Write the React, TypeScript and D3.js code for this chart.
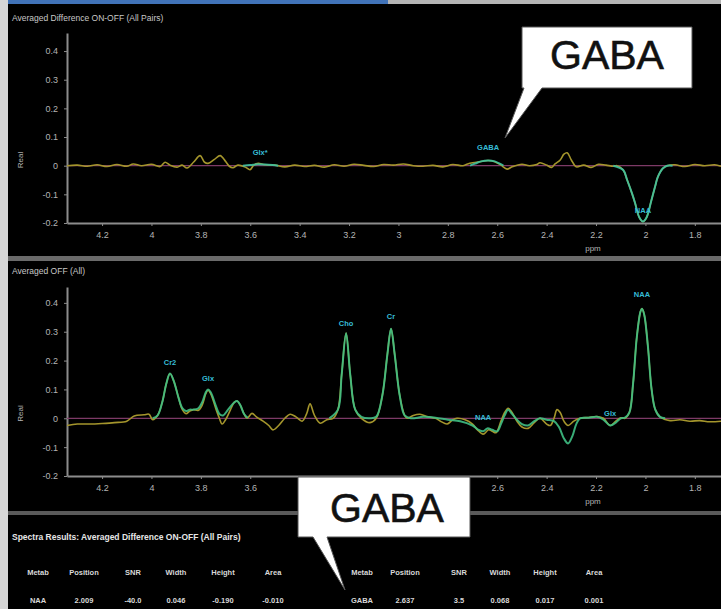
import React, { useEffect, useRef } from 'react';
import * as d3 from 'd3';

// axis ticks
const ppmTicks = [4.2, 4, 3.8, 3.6, 3.4, 3.2, 3, 2.8, 2.6, 2.4, 2.2, 2, 1.8];
const realTicks = [-0.2, -0.1, 0, 0.1, 0.2, 0.3, 0.4];

// Averaged Difference ON-OFF: measured spectrum [ppm, real]
const diffData: [number, number][] = [
  [4.342, 0], [4.3, 0.002], [4.26, -0.002], [4.22, 0.003], [4.18, -0.003], [4.14, 0.004],
  [4.1, -0.002], [4.074, 0.006], [4.04, 0], [4.0, 0.005], [3.965, -0.003], [3.945, 0.012],
  [3.925, 0.002], [3.896, -0.005], [3.876, 0.002], [3.856, -0.008], [3.83, 0.012], [3.803, 0.035],
  [3.785, 0.012], [3.771, 0.008], [3.745, 0.022], [3.722, 0.035], [3.7, 0.015], [3.685, -0.002],
  [3.67, -0.007], [3.65, 0.002], [3.62, -0.005], [3.601, -0.014], [3.585, 0.003], [3.568, 0.008],
  [3.54, 0.003], [3.5, 0.002], [3.46, -0.004], [3.42, 0.002], [3.38, -0.003], [3.34, 0.001],
  [3.3, -0.005], [3.26, 0.003], [3.22, -0.002], [3.18, 0.005], [3.14, 0.001], [3.1, -0.003],
  [3.06, 0.004], [3.02, 0.002], [2.98, 0.006], [2.94, 0], [2.9, -0.002], [2.86, 0.001],
  [2.82, -0.004], [2.78, 0.004], [2.74, 0], [2.72, 0.006], [2.7, 0.01], [2.67, 0.014],
  [2.637, 0.018], [2.61, 0.014], [2.585, 0.002], [2.56, -0.012], [2.54, -0.004], [2.5, 0.005],
  [2.47, 0], [2.44, 0.004], [2.427, 0.01], [2.4, 0.002], [2.38, -0.006], [2.366, 0.006],
  [2.345, 0.02], [2.33, 0.04], [2.317, 0.045], [2.3, 0.02], [2.28, -0.004], [2.25, 0.002],
  [2.22, -0.006], [2.19, 0.005], [2.16, 0.002], [2.13, -0.002], [2.115, 0], [2.09, -0.015],
  [2.074, -0.05], [2.055, -0.095], [2.042, -0.13], [2.025, -0.18], [2.01, -0.195], [1.995, -0.18],
  [1.977, -0.125], [1.96, -0.07], [1.95, -0.04], [1.93, -0.01], [1.912, 0], [1.88, 0.003],
  [1.84, -0.003], [1.8, 0.004], [1.76, 0], [1.72, 0.003], [1.694, -0.002],
];

// Averaged Difference ON-OFF: fitted peaks
const diffFitGlx: [number, number][] = [
  [3.63, 0], [3.6, 0.002], [3.57, 0.005], [3.54, 0.004], [3.51, 0.002], [3.487, 0],
];
const diffFitGaba: [number, number][] = [
  [2.71, 0], [2.69, 0.007], [2.665, 0.015], [2.637, 0.018], [2.61, 0.015], [2.59, 0.007], [2.575, 0],
];
const diffFitNaa: [number, number][] = [
  [2.13, 0], [2.09, -0.015], [2.074, -0.05], [2.055, -0.095], [2.042, -0.13], [2.025, -0.18],
  [2.01, -0.195], [1.995, -0.18], [1.977, -0.125], [1.96, -0.07], [1.95, -0.04], [1.93, -0.01],
  [1.912, 0], [1.89, 0],
];

// Averaged OFF: measured spectrum
const offData: [number, number][] = [
  [4.342, -0.025], [4.3, -0.02], [4.25, -0.02], [4.2, -0.018], [4.15, -0.015], [4.1, -0.01],
  [4.07, 0.008], [4.03, 0.012], [4.01, 0.014], [3.995, -0.005], [3.975, 0.01], [3.955, 0.06],
  [3.94, 0.12], [3.925, 0.155], [3.91, 0.13], [3.89, 0.07], [3.875, 0.03], [3.86, 0.016],
  [3.845, 0.025], [3.83, 0.03], [3.81, 0.028], [3.795, 0.045], [3.78, 0.085], [3.771, 0.097],
  [3.76, 0.085], [3.74, 0.035], [3.725, 0], [3.714, -0.02], [3.7, -0.005], [3.68, 0.03],
  [3.665, 0.055], [3.653, 0.06], [3.64, 0.045], [3.625, 0.015], [3.613, 0], [3.593, 0.017],
  [3.575, 0.005], [3.548, -0.01], [3.525, -0.025], [3.508, -0.04], [3.485, -0.025], [3.46, 0],
  [3.439, 0.014], [3.415, 0.005], [3.39, -0.01], [3.372, 0.015], [3.358, 0.05], [3.34, 0.01],
  [3.317, -0.017], [3.29, -0.005], [3.265, 0], [3.245, 0.03], [3.23, 0.15], [3.212, 0.295],
  [3.195, 0.15], [3.175, 0.03], [3.15, 0], [3.115, -0.015], [3.09, 0], [3.065, 0.08],
  [3.045, 0.22], [3.03, 0.31], [3.015, 0.22], [2.995, 0.08], [2.975, 0.01], [2.965, 0],
  [2.94, 0.01], [2.913, 0.014], [2.88, 0.005], [2.85, 0], [2.83, -0.01], [2.803, -0.02],
  [2.78, -0.005], [2.763, 0], [2.73, -0.005], [2.7, -0.02], [2.68, -0.04], [2.657, -0.055],
  [2.635, -0.04], [2.62, -0.045], [2.605, -0.05], [2.585, -0.01], [2.57, 0.02], [2.556, 0.035],
  [2.54, 0.02], [2.52, -0.01], [2.5, -0.03], [2.475, -0.035], [2.45, -0.015], [2.427, 0],
  [2.4, -0.02], [2.385, -0.025], [2.37, 0], [2.358, 0.03], [2.345, 0.02], [2.33, -0.01],
  [2.313, -0.025], [2.29, -0.01], [2.265, 0], [2.23, 0.003], [2.196, 0.006], [2.17, 0],
  [2.143, -0.025], [2.12, -0.01], [2.1, 0.002], [2.083, 0], [2.065, 0.02], [2.05, 0.12],
  [2.035, 0.28], [2.02, 0.37], [2.014, 0.38], [2.005, 0.36], [1.99, 0.25], [1.975, 0.1],
  [1.96, 0.03], [1.941, 0.005], [1.9, -0.008], [1.86, -0.005], [1.82, -0.01], [1.78, -0.008],
  [1.74, -0.012], [1.694, -0.01],
];

// Averaged OFF: fitted model
const offFitA: [number, number][] = [
  [3.995, 0], [3.975, 0.01], [3.955, 0.06], [3.94, 0.12], [3.925, 0.155], [3.91, 0.13],
  [3.89, 0.07], [3.875, 0.035], [3.86, 0.025], [3.845, 0.03], [3.83, 0.03], [3.81, 0.035],
  [3.795, 0.055], [3.78, 0.09], [3.771, 0.1], [3.76, 0.09], [3.74, 0.045], [3.725, 0.015],
  [3.71, 0.01], [3.69, 0.03], [3.665, 0.055], [3.653, 0.06], [3.64, 0.045], [3.625, 0.015],
  [3.61, 0.002],
];
const offFitB: [number, number][] = [
  [3.28, 0], [3.245, 0.03], [3.23, 0.15], [3.212, 0.295], [3.195, 0.15], [3.175, 0.03],
  [3.15, 0.005], [3.115, 0], [3.09, 0.005], [3.065, 0.08], [3.045, 0.22], [3.03, 0.31],
  [3.015, 0.22], [2.995, 0.08], [2.975, 0.01], [2.95, 0], [2.9, 0.005], [2.85, 0.002],
  [2.8, -0.005], [2.75, -0.01], [2.7, -0.025], [2.675, -0.04], [2.657, -0.045], [2.64, -0.035],
  [2.62, -0.04], [2.6, -0.045], [2.585, -0.02], [2.57, 0.01], [2.556, 0.03], [2.54, 0.015],
  [2.52, -0.005], [2.5, -0.02], [2.475, -0.025], [2.45, -0.01], [2.427, 0], [2.4, -0.005],
  [2.37, -0.01], [2.35, -0.03], [2.33, -0.07], [2.313, -0.087], [2.295, -0.06], [2.28, -0.02],
  [2.265, 0], [2.23, 0.002], [2.196, 0.005], [2.17, -0.005], [2.143, -0.025], [2.12, -0.015],
  [2.1, 0], [2.083, 0.002], [2.065, 0.02], [2.05, 0.12], [2.035, 0.28], [2.02, 0.37],
  [2.014, 0.38], [2.005, 0.36], [1.99, 0.25], [1.975, 0.1], [1.96, 0.03], [1.941, 0.005], [1.92, 0],
];

// metabolite labels: name, ppm, value where the label sits
const diffLabels: [string, number, number][] = [
  ['Glx*', 3.56, 0.045], ['GABA', 2.637, 0.063], ['NAA', 2.01, -0.157],
];
const offLabels: [string, number, number][] = [
  ['Cr2', 3.925, 0.194], ['Glx', 3.771, 0.139], ['Cho', 3.212, 0.33], ['Cr', 3.03, 0.354],
  ['NAA', 2.014, 0.43], ['NAA', 2.657, 0.003], ['Glx', 2.143, 0.017],
];

// results table
const tableTitle = 'Spectra Results: Averaged Difference ON-OFF (All Pairs)';
const tableHeaders = ['Metab', 'Position', 'SNR', 'Width', 'Height', 'Area'];
const naaRow = ['NAA', '2.009', '-40.0', '0.046', '-0.190', '-0.010'];
const gabaRow = ['GABA', '2.637', '3.5', '0.068', '0.017', '0.001'];

const W = 721;
const H = 609;
const FONT = "'Liberation Sans', Arial, sans-serif";

const SpectraChart = () => {
  const ref = useRef<SVGSVGElement>(null);

  useEffect(() => {
    const svg = d3.select(ref.current);
    svg.selectAll('*').remove();

    // window chrome
    svg.append('rect').attr('width', W).attr('height', H).attr('fill', '#000');
    svg.append('rect').attr('width', 8).attr('height', H).attr('fill', '#d6d6d6');
    svg.append('rect').attr('x', 8).attr('width', W - 8).attr('height', 4).attr('fill', '#b4b4b4');
    svg.append('rect').attr('x', 8).attr('width', 380).attr('height', 4).attr('fill', '#4173b8');
    svg.append('rect').attr('x', 8).attr('y', 256).attr('width', W - 8).attr('height', 5).attr('fill', '#6a6a6a');
    svg.append('rect').attr('x', 8).attr('y', 511).attr('width', W - 8).attr('height', 4).attr('fill', '#5a5a5a');

    const x = d3.scaleLinear().domain([4.342, 1.694]).range([67, W]);

    const panels = [
      {
        title: 'Averaged Difference ON-OFF (All Pairs)', titleY: 21,
        y: d3.scaleLinear().domain([-0.2, 0.463]).range([223, 33]),
        bottom: 223, top: 33, data: diffData, fits: [diffFitGlx, diffFitGaba, diffFitNaa],
        labels: diffLabels, fitColor: '#3fc2a0', hidden: [0, 0],
      },
      {
        title: 'Averaged OFF (All)', titleY: 274,
        y: d3.scaleLinear().domain([-0.2, 0.455]).range([476, 287]),
        bottom: 476, top: 287, data: offData, fits: [offFitA, offFitB],
        labels: offLabels, fitColor: '#3fbf84', hidden: [285, 475],
      },
    ];

    panels.forEach((p, i) => {
      const g = svg.append('g');
      const clipId = `clip-${i}`;
      g.append('clipPath').attr('id', clipId)
        .append('rect').attr('x', 67).attr('y', p.top - 10)
        .attr('width', W - 67).attr('height', p.bottom - p.top + 20);

      g.append('text')
        .attr('x', 12).attr('y', p.titleY)
        .attr('fill', '#c8c8c8').attr('font-size', '8.5px').attr('font-family', FONT)
        .text(p.title);

      // y axis
      const yAxis = g.append('g')
        .attr('transform', 'translate(67,0)')
        .call(d3.axisLeft(p.y).tickValues(realTicks).tickSize(3).tickSizeOuter(0).tickFormat(d => String(d)));
      yAxis.select('.domain').attr('stroke', '#8c8c8c').attr('stroke-width', 2);
      yAxis.selectAll('.tick line').attr('stroke', '#8c8c8c');
      yAxis.selectAll('.tick text')
        .attr('fill', '#b4b4b4').attr('font-size', '9px').attr('font-family', FONT).attr('x', -9);

      // x axis (labels under the callout box are hidden, as in the screenshot)
      const xAxis = g.append('g')
        .attr('transform', `translate(0,${p.bottom})`)
        .call(d3.axisBottom(x).tickValues(ppmTicks).tickSize(3).tickSizeOuter(0).tickFormat(d => String(d)));
      xAxis.select('.domain').attr('stroke', '#8c8c8c').attr('stroke-width', 2);
      xAxis.selectAll('.tick line').attr('stroke', '#8c8c8c');
      xAxis.selectAll('.tick text')
        .attr('fill', '#b4b4b4').attr('font-size', '9px').attr('font-family', FONT).attr('y', 9);
      xAxis.selectAll<SVGGElement, number>('.tick')
        .filter(d => x(d) > p.hidden[0] && x(d) < p.hidden[1])
        .select('text').remove();

      g.append('text')
        .attr('x', 593).attr('y', p.bottom + 28)
        .attr('text-anchor', 'middle')
        .attr('fill', '#b4b4b4').attr('font-size', '8px').attr('font-family', FONT)
        .text('ppm');

      g.append('text')
        .attr('transform', `translate(23,${(p.top + p.bottom) / 2 + 32}) rotate(-90)`)
        .attr('text-anchor', 'middle')
        .attr('fill', '#b4b4b4').attr('font-size', '8px').attr('font-family', FONT)
        .text('Real');

      const plot = g.append('g').attr('clip-path', `url(#${clipId})`);

      // zero baseline
      plot.append('line')
        .attr('x1', 67).attr('x2', W)
        .attr('y1', p.y(0)).attr('y2', p.y(0))
        .attr('stroke', '#7d3a66').attr('stroke-width', 1.3);

      const line = d3.line<[number, number]>()
        .x(d => x(d[0]))
        .y(d => p.y(d[1]))
        .curve(d3.curveCatmullRom.alpha(0.5));

      plot.append('path')
        .attr('d', line(p.data))
        .attr('fill', 'none')
        .attr('stroke', '#a4952c')
        .attr('stroke-width', 1.6);

      p.fits.forEach(f => {
        plot.append('path')
          .attr('d', line(f))
          .attr('fill', 'none')
          .attr('stroke', p.fitColor)
          .attr('stroke-width', 2)
          .attr('stroke-opacity', 0.9);
      });

      g.selectAll('.peak-label')
        .data(p.labels)
        .enter()
        .append('text')
        .attr('x', d => x(d[1]))
        .attr('y', d => p.y(d[2]))
        .attr('dy', '0.35em')
        .attr('text-anchor', 'middle')
        .attr('fill', '#36bcd6')
        .attr('font-size', '7.5px')
        .attr('font-weight', 'bold')
        .attr('font-family', FONT)
        .text(d => d[0]);
    });

    // results table
    svg.append('text')
      .attr('x', 12).attr('y', 540)
      .attr('fill', '#e6e6e6').attr('font-size', '8.5px').attr('font-weight', 'bold').attr('font-family', FONT)
      .text(tableTitle);

    const colsLeft = [38, 84, 133, 176, 223, 273];
    const colsRight = [362, 405, 459, 500, 545, 594];
    [[colsLeft, naaRow], [colsRight, gabaRow]].forEach(([cols, row]) => {
      const c = cols as number[];
      const r = row as string[];
      tableHeaders.forEach((h, j) => {
        svg.append('text')
          .attr('x', c[j]).attr('y', 575)
          .attr('text-anchor', 'middle')
          .attr('fill', '#d8d8d8').attr('font-size', '7.5px').attr('font-weight', 'bold').attr('font-family', FONT)
          .text(h);
        svg.append('text')
          .attr('x', c[j]).attr('y', 603)
          .attr('text-anchor', 'middle')
          .attr('fill', '#d8d8d8').attr('font-size', '7.5px').attr('font-weight', 'bold').attr('font-family', FONT)
          .text(r[j]);
      });
    });

    // callouts
    const callouts = [
      { d: 'M522,27 H692 V88 H542 L505,138 L524,88 H522 Z', tx: 607, ty: 69 },
      { d: 'M298,477 H470 V537 H327 L345,590 L313,537 H298 Z', tx: 387, ty: 522 },
    ];
    callouts.forEach(c => {
      svg.append('path')
        .attr('d', c.d)
        .attr('fill', '#fff')
        .attr('stroke', '#555')
        .attr('stroke-width', 1);
      svg.append('text')
        .attr('x', c.tx).attr('y', c.ty)
        .attr('text-anchor', 'middle')
        .attr('fill', '#111')
        .attr('font-size', '41px')
        .attr('font-family', FONT)
        .attr('stroke', '#111').attr('stroke-width', 0.6)
        .text('GABA');
    });
  }, []);

  return (
    <svg ref={ref} width={W} height={H} style={{ position: 'absolute', left: 0, top: 0, display: 'block' }} />
  );
};

export default function App() {
  return <SpectraChart />;
}
